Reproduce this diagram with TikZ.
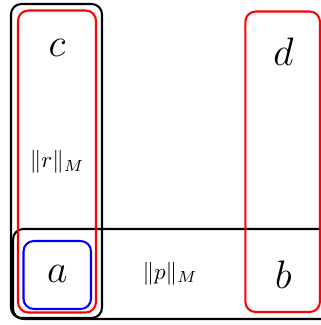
\documentclass[tikz,border=0pt]{standalone}
\begin{document}
\begin{tikzpicture}[x=0.435pt,y=-0.435pt,
  blackbox/.style={draw=black,line width=0.9pt,rounded corners=4.5pt},
  redbox/.style={draw=red,line width=0.9pt,rounded corners=4.5pt},
  bluebox/.style={draw=blue,line width=0.9pt,rounded corners=4.5pt},
  big/.style={font=\LARGE,inner sep=0pt},
  small/.style={font=\normalsize,inner sep=0pt}]
\useasboundingbox (0,0) rectangle (321,325);
% boxes
\draw[blackbox] (11,4) rectangle (102,318);
\draw[blackbox] (13,229) rectangle (340,319);
\draw[redbox] (18,10.5) rectangle (96,312.5);
\draw[redbox] (245.3,11.5) rectangle (320,312);
\draw[bluebox] (23.5,241) rectangle (91,309);
% labels
\node[big] (c) at (57,47.5) {$c$};
\node[big] (d) at (283.5,52) {$d$};
\node[big] (a) at (57.3,274) {$a$};
\node[big] (b) at (283.5,274.5) {$b$};
\node[small] (r) at (57,162) {$\|r\|_M$};
\node[small] (p) at (170,273.5) {$\|p\|_M$};
\end{tikzpicture}
\end{document}
